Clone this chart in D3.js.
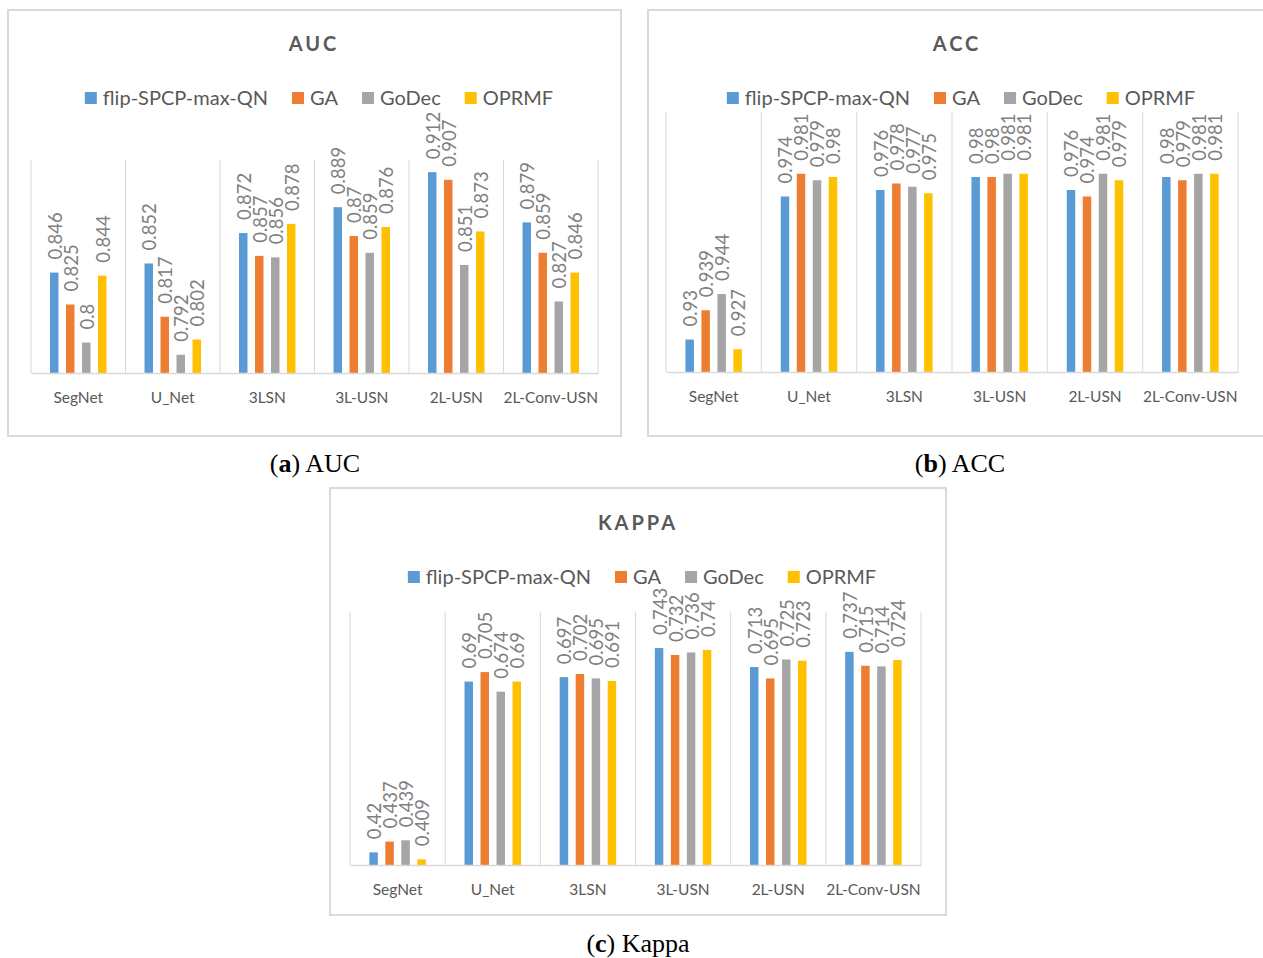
<!DOCTYPE html>
<html>
<head>
<meta charset="utf-8">
<script src="https://cdn.jsdelivr.net/npm/d3@7"></script>
<style>
  html, body { margin: 0; padding: 0; background: #fff; }
  svg { display: block; }
  text { font-family: Lato, "Open Sans", sans-serif; }
  .caption { font-family: "Liberation Serif", "DejaVu Serif", serif; }
</style>
</head>
<body>
<svg id="fig" width="1263" height="958"></svg>
<script>
// Methods compared and the test networks
const categories = ["SegNet", "U_Net", "3LSN", "3L-USN", "2L-USN", "2L-Conv-USN"];
const seriesNames = ["flip-SPCP-max-QN", "GA", "GoDec", "OPRMF"];
const seriesColors = ["#5B9BD5", "#ED7D31", "#A5A5A5", "#FFC000"];

// AUC
const aucFlip  = [0.846, 0.852, 0.872, 0.889, 0.912, 0.879];
const aucGA    = [0.825, 0.817, 0.857, 0.870, 0.907, 0.859];
const aucGoDec = [0.800, 0.792, 0.856, 0.859, 0.851, 0.827];
const aucOPRMF = [0.844, 0.802, 0.878, 0.876, 0.873, 0.846];
const aucLabels = [
  ["0.846", "0.852", "0.872", "0.889", "0.912", "0.879"],
  ["0.825", "0.817", "0.857", "0.87", "0.907", "0.859"],
  ["0.8", "0.792", "0.856", "0.859", "0.851", "0.827"],
  ["0.844", "0.802", "0.878", "0.876", "0.873", "0.846"]
];

// ACC
const accFlip  = [0.930, 0.974, 0.976, 0.980, 0.976, 0.980];
const accGA    = [0.939, 0.981, 0.978, 0.980, 0.974, 0.979];
const accGoDec = [0.944, 0.979, 0.977, 0.981, 0.981, 0.981];
const accOPRMF = [0.927, 0.980, 0.975, 0.981, 0.979, 0.981];
const accLabels = [
  ["0.93", "0.974", "0.976", "0.98", "0.976", "0.98"],
  ["0.939", "0.981", "0.978", "0.98", "0.974", "0.979"],
  ["0.944", "0.979", "0.977", "0.981", "0.981", "0.981"],
  ["0.927", "0.98", "0.975", "0.981", "0.979", "0.981"]
];

// Kappa
const kappaFlip  = [0.420, 0.690, 0.697, 0.743, 0.713, 0.737];
const kappaGA    = [0.437, 0.705, 0.702, 0.732, 0.695, 0.715];
const kappaGoDec = [0.439, 0.674, 0.695, 0.736, 0.725, 0.714];
const kappaOPRMF = [0.409, 0.690, 0.691, 0.740, 0.723, 0.724];
const kappaLabels = [
  ["0.42", "0.69", "0.697", "0.743", "0.713", "0.737"],
  ["0.437", "0.705", "0.702", "0.732", "0.695", "0.715"],
  ["0.439", "0.674", "0.695", "0.736", "0.725", "0.714"],
  ["0.409", "0.69", "0.691", "0.74", "0.723", "0.724"]
];

const svg = d3.select("#fig");
const grid = "#d9d9d9";
const textGray = "#595959";

function drawPanel(cfg) {
  const g = svg.append("g");
  const series = cfg.series;

  // frame
  g.append("rect")
    .attr("x", cfg.box[0]).attr("y", cfg.box[1])
    .attr("width", cfg.box[2] - cfg.box[0]).attr("height", cfg.box[3] - cfg.box[1])
    .attr("fill", "none").attr("stroke", grid).attr("stroke-width", 2);

  // title
  g.append("text")
    .attr("x", cfg.titleX).attr("y", cfg.titleY)
    .attr("text-anchor", "middle")
    .attr("font-size", 20).attr("font-weight", "bold")
    .attr("letter-spacing", 3)
    .attr("fill", textGray)
    .text(cfg.title);

  // legend
  const leg = g.append("g");
  let lx = 0;
  seriesNames.forEach((name, i) => {
    const item = leg.append("g").attr("transform", `translate(${lx},0)`);
    item.append("rect").attr("x", 0).attr("y", -6).attr("width", 12).attr("height", 12)
      .attr("fill", seriesColors[i]);
    const t = item.append("text").attr("x", 18).attr("y", 0).attr("dy", "0.35em")
      .attr("font-size", 20).attr("fill", textGray).text(name);
    lx += 18 + t.node().getComputedTextLength() + 24;
  });
  const legW = lx - 24;
  leg.attr("transform", `translate(${cfg.legendCX - legW / 2},${cfg.legendY})`);

  // scales
  const x0 = d3.scaleBand().domain(categories).range([cfg.plot[0], cfg.plot[2]]).padding(0);
  const y = d3.scaleLinear().domain(cfg.domain).range([cfg.plot[3], cfg.plot[1]]);
  const half = 32;
  const x1 = d3.scaleBand().domain(d3.range(series.length))
    .range([-half, half]).paddingInner(0.47).paddingOuter(0.235);

  // category separators
  const seps = categories.map(c => x0(c)).concat([x0.range()[1]]);
  g.append("g").selectAll("line").data(seps).join("line")
    .attr("x1", d => d).attr("x2", d => d)
    .attr("y1", cfg.plot[1]).attr("y2", cfg.plot[3])
    .attr("stroke", grid).attr("stroke-width", 1);

  // bars
  const barData = [];
  series.forEach((vals, si) => vals.forEach((v, ci) => {
    barData.push({ si, ci, v, label: cfg.labels[si][ci] });
  }));
  const cx = d => x0(categories[d.ci]) + x0.bandwidth() / 2 + x1(d.si);
  g.append("g").selectAll("rect").data(barData).join("rect")
    .attr("x", cx)
    .attr("y", d => y(d.v))
    .attr("width", x1.bandwidth())
    .attr("height", d => y(cfg.domain[0]) - y(d.v))
    .attr("fill", d => seriesColors[d.si]);

  // value labels, rotated
  g.append("g").selectAll("text").data(barData).join("text")
    .attr("transform", d => `translate(${cx(d) + x1.bandwidth() / 2 + 1},${y(d.v) - 13}) rotate(-90)`)
    .attr("dy", "0.35em")
    .attr("font-size", 18.5)
    .attr("fill", "#808080")
    .text(d => d.label);

  // category axis
  const axis = g.append("g")
    .attr("transform", `translate(0,${cfg.plot[3]})`)
    .call(d3.axisBottom(x0).tickSize(0).tickPadding(19));
  axis.select(".domain").attr("stroke", grid).attr("stroke-width", 1.5);
  axis.selectAll("text").attr("font-size", 15.5).attr("fill", textGray)
    .attr("font-family", "Lato, sans-serif");

  // caption
  const cap = g.append("text").attr("class", "caption")
    .attr("x", cfg.captionX).attr("y", cfg.captionY)
    .attr("text-anchor", "middle").attr("font-size", 26).attr("fill", "#000");
  cap.append("tspan").text("(");
  cap.append("tspan").attr("font-weight", "bold").text(cfg.captionLetter);
  cap.append("tspan").text(") " + cfg.captionText);
}

drawPanel({
  title: "AUC",
  series: [aucFlip, aucGA, aucGoDec, aucOPRMF],
  labels: aucLabels,
  domain: [0.78, 0.92],
  box: [8, 10, 621, 436],
  plot: [31, 160, 598, 373],
  titleX: 314, titleY: 51,
  legendCX: 319, legendY: 98,
  captionX: 315, captionY: 472, captionLetter: "a", captionText: "AUC"
});

drawPanel({
  title: "ACC",
  series: [accFlip, accGA, accGoDec, accOPRMF],
  labels: accLabels,
  domain: [0.92, 1.0],
  box: [648, 10, 1266, 436],
  plot: [666, 112, 1238, 372],
  titleX: 957, titleY: 51,
  legendCX: 961, legendY: 98,
  captionX: 960, captionY: 472, captionLetter: "b", captionText: "ACC"
});

drawPanel({
  title: "KAPPA",
  series: [kappaFlip, kappaGA, kappaGoDec, kappaOPRMF],
  labels: kappaLabels,
  domain: [0.4, 0.8],
  box: [330, 488, 946, 915],
  plot: [350, 612, 921, 865],
  titleX: 638, titleY: 530,
  legendCX: 642, legendY: 577,
  captionX: 638, captionY: 952, captionLetter: "c", captionText: "Kappa"
});
</script>
</body>
</html>
